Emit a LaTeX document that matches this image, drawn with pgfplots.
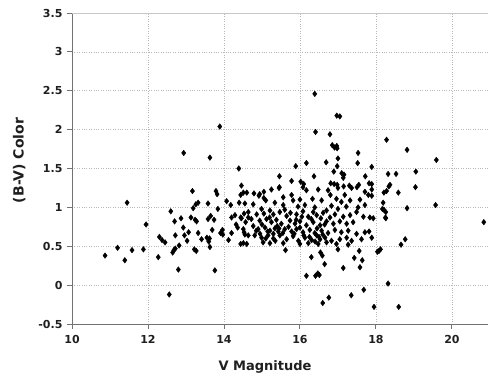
\documentclass[border=0pt]{standalone}
\usepackage{fontspec}
\setmainfont{DejaVu Sans}
\usepackage{pgfplots}
\usepackage{pgfplotstable}
\pgfplotsset{compat=1.18}
\pgfplotstableread{
x y
10.87 0.38
11.20 0.48
11.39 0.32
11.45 1.06
11.58 0.45
11.88 0.46
11.95 0.78
12.27 0.36
12.30 0.62
12.37 0.58
12.45 0.55
12.56 -0.12
12.60 0.95
12.65 0.42
12.68 0.45
12.72 0.47
12.70 0.82
12.72 0.64
12.80 0.20
12.82 0.51
12.87 0.86
12.93 0.74
12.96 0.64
13.03 0.57
13.07 0.68
13.13 0.87
13.17 1.21
13.19 0.99
13.22 0.46
13.27 0.44
13.24 0.84
13.28 0.82
13.26 1.04
13.32 1.06
13.32 0.67
13.41 0.59
13.55 0.61
13.58 1.05
13.60 0.56
13.62 0.60
13.58 0.85
13.63 0.49
13.65 0.89
13.69 0.71
13.74 0.84
13.76 0.19
13.79 1.21
13.82 1.17
13.84 0.98
13.91 0.67
13.97 0.65
13.96 0.71
14.07 1.08
14.12 0.58
14.18 1.03
14.20 0.87
14.20 0.67
14.29 0.90
14.32 0.78
14.36 0.74
14.40 1.06
14.44 0.53
14.44 0.87
12.94 1.70
13.63 1.64
13.89 2.04
14.39 1.50
14.46 1.28
14.44 1.16
14.51 1.19
14.60 1.19
14.55 1.05
14.64 0.94
14.46 0.86
14.64 0.87
14.51 0.72
14.55 0.65
14.64 0.64
14.51 0.54
14.60 0.53
14.53 0.92
14.57 0.81
14.53 0.68
16.39 2.46
16.97 2.18
17.05 2.17
16.41 1.97
16.79 1.94
16.85 1.80
16.91 1.77
16.97 1.79
16.98 1.76
17.00 1.63
17.53 1.70
15.89 1.53
16.17 1.57
16.69 1.58
16.98 1.53
17.52 1.57
17.89 1.52
18.28 1.87
18.82 1.74
19.59 1.61
15.46 1.40
15.78 1.34
16.37 1.40
16.89 1.46
17.10 1.44
17.16 1.42
17.14 1.38
17.72 1.40
18.32 1.43
18.53 1.43
19.05 1.46
16.02 1.33
16.10 1.30
16.81 1.31
16.90 1.30
16.98 1.29
17.82 1.31
17.89 1.30
17.55 1.29
18.37 1.29
19.04 1.26
15.46 1.26
17.15 1.27
17.30 1.28
19.57 1.03
18.82 0.99
20.84 0.81
15.62 0.45
16.30 0.36
16.65 0.27
16.17 0.12
16.41 0.12
16.47 0.15
16.51 0.13
17.14 0.22
17.43 0.35
17.58 0.23
17.64 0.32
17.56 0.44
16.60 -0.23
16.76 -0.16
17.35 -0.13
17.68 -0.06
17.95 -0.28
18.32 0.02
18.60 -0.28
18.04 0.43
18.08 0.44
18.12 0.46
18.66 0.52
18.77 0.59
18.25 0.87
18.17 0.98
18.21 0.97
18.19 1.06
18.26 0.94
18.26 0.86
18.21 1.19
18.28 1.21
18.34 1.27
18.59 1.19
17.89 1.23
17.89 1.15
17.84 0.87
17.93 0.86
17.89 0.61
17.82 0.69
16.54 0.42
16.59 0.38
17.00 0.46
14.79 1.18
14.92 1.15
15.05 1.20
15.10 1.09
15.25 1.23
15.45 1.25
14.94 1.17
15.05 1.12
15.56 1.13
15.78 1.16
16.08 1.26
16.17 1.22
16.48 1.23
16.74 1.22
16.80 1.16
17.00 1.25
17.18 1.16
17.36 1.25
17.50 1.26
17.71 1.20
17.80 1.16
15.82 1.09
16.00 1.10
16.33 1.11
16.57 1.09
16.96 1.11
17.09 1.07
17.32 1.09
17.58 1.10
14.77 1.04
14.99 0.98
15.34 1.06
15.56 1.03
15.95 1.01
16.13 1.03
16.39 1.00
16.83 1.02
17.00 0.98
17.22 1.01
17.53 1.00
17.71 1.03
14.86 0.91
15.21 0.96
15.30 0.91
15.47 0.94
15.65 0.89
15.91 0.91
16.08 0.95
16.22 0.88
16.44 0.90
16.61 0.93
16.79 0.87
16.92 0.91
17.14 0.88
17.32 0.90
17.49 0.94
17.67 0.88
14.72 0.85
14.94 0.83
15.12 0.85
15.25 0.81
15.38 0.84
15.51 0.79
15.74 0.83
15.87 0.79
16.00 0.82
16.17 0.77
16.35 0.81
16.53 0.77
16.70 0.82
16.88 0.79
17.05 0.82
17.23 0.79
17.40 0.81
14.77 0.76
14.90 0.72
15.08 0.74
15.21 0.70
15.34 0.73
15.43 0.69
15.60 0.72
15.78 0.69
15.91 0.72
16.08 0.68
16.26 0.71
16.39 0.67
16.57 0.70
16.74 0.67
16.92 0.71
17.09 0.68
17.27 0.70
17.49 0.66
17.71 0.68
14.81 0.64
14.99 0.61
15.16 0.64
15.30 0.60
15.47 0.64
15.65 0.59
15.82 0.63
15.96 0.57
16.13 0.61
16.31 0.58
16.44 0.64
16.53 0.59
16.66 0.61
16.83 0.57
17.05 0.59
17.23 0.61
17.36 0.57
17.62 0.59
15.03 0.55
15.21 0.54
15.56 0.54
16.00 0.53
16.22 0.54
16.48 0.53
16.70 0.55
16.96 0.53
17.27 0.52
15.00 0.78
15.15 0.69
15.30 0.66
15.40 0.76
15.55 0.67
15.70 0.75
15.85 0.66
16.00 0.74
16.10 0.64
16.25 0.62
16.45 0.73
16.60 0.65
16.65 0.78
16.40 0.56
16.50 0.62
16.35 0.94
15.20 0.87
15.05 0.92
15.60 0.97
15.75 0.93
14.85 0.70
14.95 0.66
15.10 0.60
15.35 0.57
15.45 0.73
15.90 0.84
16.05 0.88
16.30 0.85
16.55 0.86
16.70 0.96
}\data
\begin{document}
\begin{tikzpicture}
\useasboundingbox (-72pt,-52pt) rectangle (416pt,324pt);
\begin{axis}[
  at={(0,0)}, anchor=south west,
  width=416pt, height=311pt, scale only axis,
  xmin=10, xmax=20.95, ymin=-0.5, ymax=3.5,
  xtick={10,12,14,16,18,20},
  ytick={-0.5,0,0.5,1,1.5,2,2.5,3,3.5},
  axis x line*=bottom, axis y line*=left,
  axis line style={-, draw=black!55, line width=0.9pt},
  tick align=outside, major tick length=5pt,
  tick style={draw=black!55, line width=0.9pt},
  grid=major,
  major grid style={dotted, draw=black!28, line width=0.7pt},
  /pgf/number format/assume math mode=true,
  ticklabel style={font=\bfseries\fontsize{11}{12}\selectfont, text=black!88},
  xticklabel style={yshift=-3pt},
  yticklabel style={xshift=-1pt},
  xlabel={V Magnitude},
  ylabel={(B-V) Color},
  xlabel style={at={(axis description cs:0.464,-0.148)}, anchor=base, font=\bfseries\fontsize{13}{15}\selectfont, text=black!88},
  ylabel style={at={(axis description cs:-0.127,0.526)}, anchor=center, font=\bfseries\fontsize{14}{16}\selectfont, text=black!88},
  clip=true,
]
\draw[black!22, line width=1.3pt] (rel axis cs:0,1) -- (rel axis cs:1,1);
\addplot[only marks, mark=diamond*, mark size=2.8pt, mark options={scale=1}, black] table[x=x,y=y] {\data};
\end{axis}
\end{tikzpicture}
\end{document}
